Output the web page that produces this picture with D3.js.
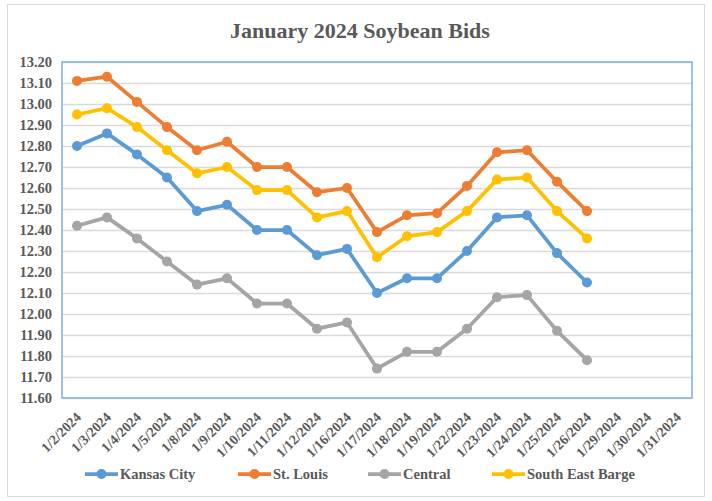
<!DOCTYPE html>
<html>
<head>
  <script src="https://d3js.org/d3.v7.min.js"></script>
</head>
<style>
body { margin: 0; background: #fff; }
text { font-family: "Liberation Serif", "Times New Roman", serif; font-weight: bold; fill: #595959; }
</style>
<body>
  <svg id="svg_chart"></svg>
</body>
<script>
  var dates = ["1/2/2024","1/3/2024","1/4/2024","1/5/2024","1/8/2024","1/9/2024","1/10/2024",
    "1/11/2024","1/12/2024","1/16/2024","1/17/2024","1/18/2024","1/19/2024","1/22/2024",
    "1/23/2024","1/24/2024","1/25/2024","1/26/2024","1/29/2024","1/30/2024","1/31/2024"];

  var kansasCity = [12.80,12.86,12.76,12.65,12.49,12.52,12.40,12.40,12.28,12.31,12.10,12.17,12.17,12.30,12.46,12.47,12.29,12.15];
  var stLouis    = [13.11,13.13,13.01,12.89,12.78,12.82,12.70,12.70,12.58,12.60,12.39,12.47,12.48,12.61,12.77,12.78,12.63,12.49];
  var central    = [12.42,12.46,12.36,12.25,12.14,12.17,12.05,12.05,11.93,11.96,11.74,11.82,11.82,11.93,12.08,12.09,11.92,11.78];
  var seBarge    = [12.95,12.98,12.89,12.78,12.67,12.70,12.59,12.59,12.46,12.49,12.27,12.37,12.39,12.49,12.64,12.65,12.49,12.36];

  var yTicks = d3.range(11.6, 13.2001, 0.1);

  var series = [
    {name: "Kansas City", values: kansasCity, color: "#5B9BD5"},
    {name: "St. Louis", values: stLouis, color: "#ED7D31"},
    {name: "Central", values: central, color: "#A5A5A5"},
    {name: "South East Barge", values: seBarge, color: "#FFC000"}
  ];

  var w = 712, h = 501;
  var margin = {top: 62, right: 20, bottom: 103, left: 62};
  var pw = 692 - margin.left;
  var ph = 398 - margin.top;

  var svg = d3.select("#svg_chart").attr("width", w).attr("height", h);

  // chart frame
  svg.append("rect")
    .attr("x", 7.5).attr("y", 4.5).attr("width", 697).attr("height", 492)
    .attr("fill", "#fff").attr("stroke", "#D9D9D9");

  svg.append("text")
    .attr("x", 360).attr("y", 38)
    .attr("text-anchor", "middle")
    .style("font-size", "22px")
    .text("January 2024 Soybean Bids");

  var x = d3.scaleBand().domain(dates).range([0, pw]);
  var y = d3.scaleLinear().domain([11.6, 13.2]).range([ph, 0]);

  var g = svg.append("g").attr("transform", "translate(" + margin.left + "," + margin.top + ")");

  // gridlines
  g.append("g")
    .call(d3.axisLeft(y).tickValues(yTicks).tickSize(-pw).tickFormat(""))
    .call(function(s) {
      s.select(".domain").remove();
      s.selectAll("line").attr("stroke", "#D9D9D9").attr("stroke-width", 1.3);
    });

  // y axis labels
  g.append("g")
    .call(d3.axisLeft(y).tickValues(yTicks).tickSize(0).tickPadding(10).tickFormat(d3.format(".2f")))
    .call(function(s) {
      s.select(".domain").remove();
      s.selectAll("text").style("font-size", "14.5px").attr("fill", "#595959");
    });

  // x axis labels
  g.append("g")
    .attr("transform", "translate(0," + ph + ")")
    .call(d3.axisBottom(x).tickSize(0).tickPadding(0))
    .call(function(s) {
      s.select(".domain").remove();
      s.selectAll("text")
        .style("font-size", "14px")
        .attr("fill", "#595959")
        .attr("text-anchor", "end")
        .attr("dy", "0")
        .attr("transform", "translate(5,20) rotate(-45)");
    });

  // plot border
  g.append("rect")
    .attr("x", 0).attr("y", 0).attr("width", pw).attr("height", ph)
    .attr("fill", "none").attr("stroke", "#7EB0DE").attr("stroke-width", 1.5);

  var line = d3.line()
    .x(function(d, i) { return x(dates[i]) + x.bandwidth() / 2; })
    .y(function(d) { return y(d); });

  series.forEach(function(s) {
    g.append("path")
      .attr("d", line(s.values))
      .attr("fill", "none")
      .attr("stroke", s.color)
      .attr("stroke-width", 3.75)
      .attr("stroke-linejoin", "round");
    g.selectAll(null)
      .data(s.values)
      .enter().append("circle")
      .attr("cx", function(d, i) { return x(dates[i]) + x.bandwidth() / 2; })
      .attr("cy", function(d) { return y(d); })
      .attr("r", 5)
      .attr("fill", s.color);
  });

  // legend
  var legendX = [85, 238, 368, 492];
  var legend = svg.append("g").attr("transform", "translate(0,474)");
  series.forEach(function(s, i) {
    var lg = legend.append("g").attr("transform", "translate(" + legendX[i] + ",0)");
    lg.append("line").attr("x1", 0).attr("x2", 33).attr("y1", 0).attr("y2", 0)
      .attr("stroke", s.color).attr("stroke-width", 3.75);
    lg.append("circle").attr("cx", 16.5).attr("cy", 0).attr("r", 5).attr("fill", s.color);
    lg.append("text").attr("x", 35).attr("y", 5).style("font-size", "14.5px").text(s.name);
  });
</script>
</html>
